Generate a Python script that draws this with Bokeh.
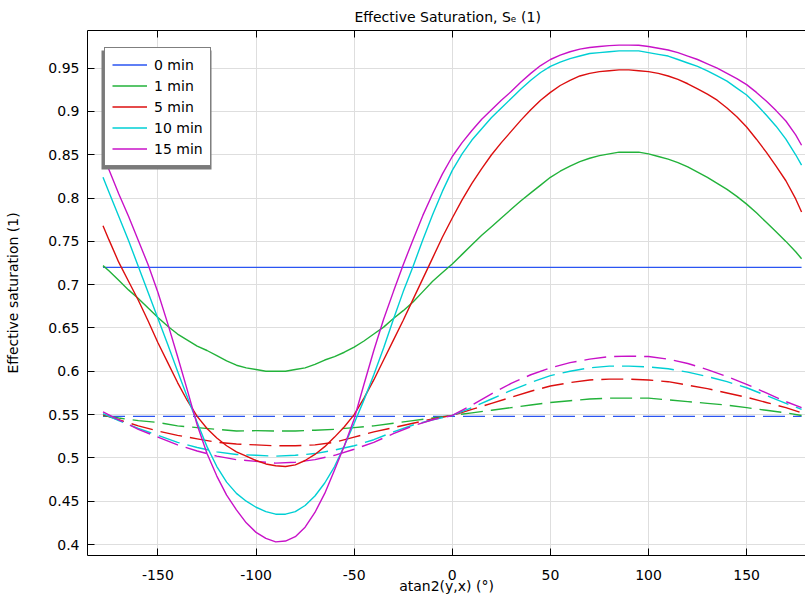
from bokeh.plotting import figure
from bokeh.models import Range1d, LinearAxis, FixedTicker, BoxAnnotation, Grid
from bokeh.embed import file_html
from bokeh.resources import INLINE

# ---------------- data ----------------
# solid curves are read every 5 degrees, dashed curves every 10 degrees
angle_solid = [-178, -175, -170, -165, -160, -155, -150, -145, -140, -135, -130, -125,
               -120, -115, -110, -105, -100, -95, -90, -85, -80, -75, -70, -65, -60,
               -55, -50, -45, -40, -35, -30, -25, -20, -15, -10, -5, 0, 5, 10, 15, 20,
               25, 30, 35, 40, 45, 50, 55, 60, 65, 70, 75, 80, 85, 90, 95, 100, 105,
               110, 115, 120, 125, 130, 135, 140, 145, 150, 155, 160, 165, 170, 175, 178]
angle_dashed = [-178, -170, -160, -150, -140, -130, -120, -110, -100, -90, -80, -70, -60,
                -50, -40, -30, -20, -10, 0, 10, 20, 30, 40, 50, 60, 70, 80, 90, 100, 110,
                120, 130, 140, 150, 160, 170, 178]

series_names = ["0 min", "1 min", "5 min", "10 min", "15 min"]
series_colors = ["#2a55f2", "#22b23a", "#dc0f0f", "#00cfd4", "#c812c8"]

solid_0 = [0.72, 0.72]          # flat line, read at the two ends
solid_0_angle = [-178, 178]
solid_1 = [0.722, 0.716, 0.705, 0.694, 0.684, 0.673, 0.662, 0.652, 0.643, 0.636, 0.629,
           0.624, 0.618, 0.612, 0.607, 0.604, 0.602, 0.600, 0.600, 0.600, 0.602, 0.604,
           0.608, 0.613, 0.617, 0.622, 0.628, 0.635, 0.643, 0.651, 0.661, 0.670, 0.680,
           0.692, 0.704, 0.714, 0.724, 0.735, 0.746, 0.757, 0.767, 0.777, 0.787, 0.797,
           0.806, 0.815, 0.824, 0.831, 0.837, 0.842, 0.846, 0.849, 0.851, 0.853, 0.853,
           0.853, 0.851, 0.848, 0.845, 0.841, 0.836, 0.830, 0.824, 0.817, 0.810, 0.802,
           0.793, 0.783, 0.772, 0.761, 0.750, 0.738, 0.730]
solid_5 = [0.768, 0.752, 0.726, 0.704, 0.682, 0.658, 0.633, 0.610, 0.587, 0.566, 0.548,
           0.534, 0.523, 0.514, 0.507, 0.502, 0.497, 0.493, 0.491, 0.490, 0.492, 0.497,
           0.504, 0.513, 0.524, 0.536, 0.550, 0.569, 0.590, 0.613, 0.636, 0.659, 0.683,
           0.707, 0.731, 0.755, 0.777, 0.798, 0.817, 0.834, 0.850, 0.864, 0.877, 0.890,
           0.902, 0.913, 0.922, 0.930, 0.936, 0.941, 0.944, 0.946, 0.947, 0.948, 0.948,
           0.947, 0.946, 0.944, 0.941, 0.937, 0.932, 0.926, 0.920, 0.913, 0.904, 0.894,
           0.882, 0.868, 0.853, 0.837, 0.820, 0.799, 0.784]
solid_10 = [0.824, 0.807, 0.779, 0.751, 0.721, 0.691, 0.661, 0.631, 0.600, 0.570, 0.541,
            0.513, 0.490, 0.472, 0.459, 0.450, 0.443, 0.438, 0.435, 0.435, 0.438, 0.445,
            0.456, 0.471, 0.490, 0.514, 0.540, 0.567, 0.596, 0.627, 0.660, 0.692, 0.721,
            0.752, 0.781, 0.808, 0.832, 0.851, 0.867, 0.880, 0.893, 0.904, 0.915, 0.926,
            0.936, 0.945, 0.952, 0.957, 0.961, 0.964, 0.967, 0.968, 0.969, 0.970, 0.970,
            0.970, 0.968, 0.966, 0.964, 0.960, 0.956, 0.952, 0.947, 0.941, 0.935, 0.927,
            0.919, 0.908, 0.896, 0.883, 0.868, 0.850, 0.838]
solid_15 = [0.849, 0.833, 0.805, 0.779, 0.751, 0.723, 0.691, 0.655, 0.617, 0.578, 0.538,
            0.505, 0.479, 0.457, 0.440, 0.425, 0.414, 0.407, 0.403, 0.404, 0.409, 0.420,
            0.437, 0.459, 0.486, 0.514, 0.545, 0.585, 0.624, 0.660, 0.692, 0.723, 0.752,
            0.780, 0.805, 0.828, 0.848, 0.864, 0.878, 0.891, 0.902, 0.913, 0.923, 0.934,
            0.944, 0.953, 0.960, 0.965, 0.969, 0.972, 0.9738, 0.975, 0.976, 0.9766,
            0.9766, 0.9765, 0.975, 0.973, 0.971, 0.968, 0.964, 0.960, 0.955, 0.950,
            0.944, 0.938, 0.931, 0.922, 0.912, 0.901, 0.889, 0.873, 0.861]

dashed_0 = [0.548, 0.548]       # flat line, read at the two ends
dashed_0_angle = [-178, 178]
dashed_1 = [0.549, 0.546, 0.543, 0.541, 0.537, 0.535, 0.533, 0.531, 0.5315, 0.531, 0.531,
            0.532, 0.533, 0.535, 0.537, 0.540, 0.543, 0.546, 0.549, 0.552, 0.555, 0.558,
            0.561, 0.564, 0.566, 0.568, 0.569, 0.569, 0.569, 0.567, 0.565, 0.563, 0.561,
            0.558, 0.555, 0.552, 0.549]
dashed_5 = [0.550, 0.544, 0.537, 0.531, 0.526, 0.522, 0.518, 0.516, 0.515, 0.514, 0.514,
            0.515, 0.518, 0.524, 0.530, 0.535, 0.540, 0.545, 0.549, 0.556, 0.563, 0.570,
            0.577, 0.583, 0.587, 0.590, 0.591, 0.591, 0.590, 0.588, 0.584, 0.580, 0.575,
            0.570, 0.564, 0.558, 0.552]
dashed_10 = [0.551, 0.543, 0.534, 0.526, 0.518, 0.512, 0.507, 0.504, 0.503, 0.502, 0.503,
             0.505, 0.509, 0.514, 0.521, 0.530, 0.538, 0.544, 0.549, 0.558, 0.568, 0.578,
             0.587, 0.595, 0.600, 0.604, 0.606, 0.606, 0.605, 0.603, 0.599, 0.594, 0.588,
             0.581, 0.572, 0.563, 0.556]
dashed_15 = [0.553, 0.544, 0.533, 0.524, 0.515, 0.508, 0.502, 0.498, 0.496, 0.494, 0.495,
             0.498, 0.503, 0.510, 0.518, 0.528, 0.537, 0.544, 0.549, 0.561, 0.574, 0.586,
             0.596, 0.604, 0.610, 0.614, 0.617, 0.6175, 0.617, 0.614, 0.609, 0.602, 0.594,
             0.585, 0.575, 0.565, 0.558]

solid_x = [solid_0_angle, angle_solid, angle_solid, angle_solid, angle_solid]
solid_series = [solid_0, solid_1, solid_5, solid_10, solid_15]
dashed_x = [dashed_0_angle, angle_dashed, angle_dashed, angle_dashed, angle_dashed]
dashed_series = [dashed_0, dashed_1, dashed_5, dashed_10, dashed_15]

x_ticks = [-150, -100, -50, 0, 50, 100, 150]
x_tick_labels = ["-150", "-100", "-50", "0", "50", "100", "150"]
y_ticks = [0.4, 0.45, 0.5, 0.55, 0.6, 0.65, 0.7, 0.75, 0.8, 0.85, 0.9, 0.95]
y_tick_labels = ["0.4", "0.45", "0.5", "0.55", "0.6", "0.65", "0.7", "0.75", "0.8",
                 "0.85", "0.9", "0.95"]

title_text = "Effective Saturation, S\u2091 (1)"
x_title = "atan2(y,x) (\u00b0)"
y_title = "Effective saturation (1)"

FONT = "DejaVu Sans"

# ---------------- figure ----------------
p = figure(width=805, height=598, output_backend="svg", toolbar_location=None,
           x_range=Range1d(-185.9, 180.0), y_range=Range1d(0.3873, 0.9935),
           min_border_left=87, min_border_right=0, min_border_top=30, min_border_bottom=43,
           x_axis_location=None, y_axis_location=None)
p.outline_line_color = None
p.background_fill_color = "white"
p.border_fill_color = "white"

p.title.text = title_text
p.title.align = "left"
p.title.offset = 267
p.title.text_font = FONT
p.title.text_font_size = "14px"
p.title.text_font_style = "normal"
p.title.text_color = "black"
p.title.standoff = 11

xt = FixedTicker(ticks=x_ticks, minor_ticks=[])
yt = FixedTicker(ticks=y_ticks, minor_ticks=[])

xaxis = LinearAxis(ticker=xt, axis_label=x_title)
xaxis.major_label_overrides = {t: s for t, s in zip(x_ticks, x_tick_labels)}
yaxis = LinearAxis(ticker=yt, axis_label=y_title)
yaxis.major_label_overrides = {t: s for t, s in zip(y_ticks, y_tick_labels)}
topaxis = LinearAxis(ticker=xt)
topaxis.major_label_text_font_size = "1px"
topaxis.major_label_text_color = None
topaxis.major_label_standoff = 0

for ax in (xaxis, yaxis, topaxis):
    ax.major_tick_in = 7
    ax.major_tick_out = 0
    ax.minor_tick_in = 0
    ax.minor_tick_out = 0
    ax.axis_line_color = "black"
    ax.axis_line_width = 1
    ax.major_tick_line_color = "black"
    ax.major_label_text_font = FONT
    ax.axis_label_text_font = FONT
    ax.axis_label_text_font_style = "normal"
    ax.axis_label_text_color = "black"

for ax in (xaxis, yaxis):
    ax.major_label_text_color = "black"
    ax.major_label_text_font_size = "14px"
    ax.axis_label_text_font_size = "14px"

xaxis.major_label_standoff = 14
xaxis.axis_label_standoff = -5
yaxis.major_label_standoff = 8
yaxis.axis_label_standoff = 24

p.add_layout(xaxis, "below")
p.add_layout(yaxis, "left")
p.add_layout(topaxis, "above")

p.add_layout(Grid(dimension=0, ticker=xt, grid_line_color="#dedede", grid_line_width=1))
p.add_layout(Grid(dimension=1, ticker=yt, grid_line_color="#dedede", grid_line_width=1))

# legend shadow (drawn below the legend)
shadow = BoxAnnotation(left=14, right=124, top=505, bottom=386,
                       left_units="screen", right_units="screen",
                       top_units="screen", bottom_units="screen",
                       fill_color="#7a7a7a", fill_alpha=1.0, line_color=None,
                       level="annotation")
p.add_layout(shadow)

# dashed curves (no legend entries)
for xs, ys, c in zip(dashed_x, dashed_series, series_colors):
    p.line(xs, ys, line_color=c, line_width=1.4, line_dash="22 8")

# solid curves
for xs, ys, c, n in zip(solid_x, solid_series, series_colors, series_names):
    p.line(xs, ys, line_color=c, line_width=1.4, legend_label=n)

lg = p.legend[0]
lg.location = "top_left"
lg.margin = 17
lg.padding = 7
lg.spacing = 2
lg.glyph_width = 35
lg.glyph_height = 19
lg.label_height = 19
lg.label_width = 48
lg.label_standoff = 7
lg.label_text_font = FONT
lg.label_text_font_size = "14px"
lg.label_text_color = "black"
lg.border_line_color = "black"
lg.border_line_width = 1.5
lg.background_fill_color = "white"
lg.background_fill_alpha = 1.0
lg.level = "overlay"

open("out.html", "w").write(file_html(p, INLINE))
